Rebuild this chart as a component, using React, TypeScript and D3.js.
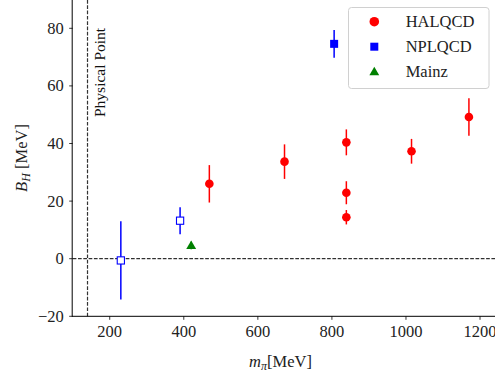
import React from 'react';
import * as d3 from 'd3';

// HALQCD (filled red circles)
const halX = [469, 672, 839, 839, 839, 1015, 1170];
const halY = [26.0, 33.7, 40.4, 22.9, 14.4, 37.3, 49.2];
const halErr = [6.5, 6.0, 4.5, 4.0, 2.5, 4.3, 6.5];

// NPLQCD (filled blue square, in legend)
const nplX = [806];
const nplY = [74.6];
const nplErr = [4.8];

// NPLQCD (open blue squares, no legend)
const nplOpenX = [230, 390];
const nplOpenY = [-0.6, 13.2];
const nplOpenErr = [13.6, 4.7];

// Mainz (green triangle)
const mainzX = [420];
const mainzY = [4.6];
const mainzErr = [1.3];

const xTicks = [200, 400, 600, 800, 1000, 1200];
const yTicks = [-20, 0, 20, 40, 60, 80];
const physicalPoint = 140;
const legendLabels = ['HALQCD', 'NPLQCD', 'Mainz'];

const W = 495;
const H = 370;
const FONT = "'Liberation Serif'";
const fs = 16.5;

const margin = { left: 72.7, bottom: 316.3 };
const x = d3.scaleLinear().domain([100, 1250]).range([margin.left, margin.left + 1150 * 0.3703]);
const y = d3.scaleLinear().domain([-20, 90]).range([margin.bottom, margin.bottom - 110 * 2.88]);
const fmt = d3.format('d');
const tri = d3.symbol().type(d3.symbolTriangle).size(42)()!;
const rowY = d3.scalePoint<string>().domain(legendLabels).range([21.7, 71.7]);

const zip = (xs: number[], ys: number[], es: number[]) => xs.map((v, i) => ({ x: v, y: ys[i], e: es[i] }));

const ErrBars: React.FC<{ pts: { x: number; y: number; e: number }[]; colour: string }> = ({ pts, colour }) => (
  <g>
    {pts.map((d, i) => (
      <line key={i} x1={x(d.x)} x2={x(d.x)} y1={y(d.y - d.e)} y2={y(d.y + d.e)} stroke={colour} strokeWidth={1.5} />
    ))}
  </g>
);

const App: React.FC = () => {
  const hal = zip(halX, halY, halErr);
  const npl = zip(nplX, nplY, nplErr);
  const nplOpen = zip(nplOpenX, nplOpenY, nplOpenErr);
  const mainz = zip(mainzX, mainzY, mainzErr);
  const mx = 374.3;

  return (
    <svg width={W} height={H} style={{ position: 'absolute', left: 0, top: 0, background: 'white', fontFamily: FONT }}>
      {/* reference lines */}
      <line x1={x(100)} x2={W} y1={y(0)} y2={y(0)} stroke="#000" strokeWidth={1} strokeDasharray="3.7,1.6" />
      <line x1={x(physicalPoint)} x2={x(physicalPoint)} y1={0} y2={y(-20)} stroke="#333" strokeWidth={1.2} strokeDasharray="3.7,1.6" />
      <text transform="translate(104.5,117) rotate(-90)" fontSize={15.5} fill="#111" style={{ fontFamily: FONT }}>
        Physical Point
      </text>

      {/* x axis */}
      <g transform={`translate(0,${margin.bottom})`}>
        <line x1={margin.left - 0.5} x2={W} y1={0} y2={0} stroke="#000" strokeWidth={1} />
        {xTicks.map(t => (
          <g key={t} transform={`translate(${x(t)},0)`}>
            <line y1={0} y2={3.5} stroke="#000" strokeWidth={0.8} />
            <text y={20.5} textAnchor="middle" fontSize={fs} fill="#222" style={{ fontFamily: FONT }}>{fmt(t)}</text>
          </g>
        ))}
      </g>

      {/* y axis */}
      <g transform={`translate(${margin.left},0)`}>
        <line x1={-0.5} x2={-0.5} y1={0} y2={margin.bottom + 0.5} stroke="#000" strokeWidth={1} />
        {yTicks.map(t => (
          <g key={t} transform={`translate(0,${y(t)})`}>
            <line x1={-3.5} x2={0} stroke="#000" strokeWidth={0.8} />
            <text x={-9} dy={5.5} textAnchor="end" fontSize={fs} fill="#222" style={{ fontFamily: FONT }}>{fmt(t)}</text>
          </g>
        ))}
      </g>

      {/* data */}
      <ErrBars pts={hal} colour="#ff0000" />
      {hal.map((d, i) => <circle key={i} cx={x(d.x)} cy={y(d.y)} r={4.3} fill="#ff0000" />)}

      <ErrBars pts={npl} colour="#0000ff" />
      {npl.map((d, i) => <rect key={i} x={x(d.x) - 4} y={y(d.y) - 4} width={8} height={8} fill="#0000ff" />)}

      <ErrBars pts={nplOpen} colour="#0000ff" />
      {nplOpen.map((d, i) => (
        <rect key={i} x={x(d.x) - 3.6} y={y(d.y) - 3.6} width={7.2} height={7.2} fill="white" stroke="#0000ff" strokeWidth={1.1} />
      ))}

      <ErrBars pts={mainz} colour="#008000" />
      {mainz.map((d, i) => <path key={i} transform={`translate(${x(d.x)},${y(d.y) + 0.8})`} d={tri} fill="#008000" />)}

      {/* axis labels */}
      <text transform="translate(26.5,158) rotate(-90)" textAnchor="middle" fontSize={fs} fill="#222" style={{ fontFamily: FONT }}>
        <tspan fontStyle="italic">B</tspan>
        <tspan fontStyle="italic" fontSize={12} dy={3.5}>H</tspan>
        <tspan dy={-3.5}> [MeV]</tspan>
      </text>
      <text x={280.5} y={366.5} textAnchor="middle" fontSize={fs} fill="#222" style={{ fontFamily: FONT }}>
        <tspan fontStyle="italic">m</tspan>
        <tspan fontStyle="italic" fontSize={12} dy={3}>π</tspan>
        <tspan dy={-3}>[MeV]</tspan>
      </text>

      {/* legend */}
      <g>
        <rect x={348.5} y={7.5} width={140.5} height={81} rx={3} fill="white" fillOpacity={0.85} stroke="#d0d0d0" strokeWidth={1} />
        <circle cx={mx} cy={rowY('HALQCD')!} r={4.8} fill="#ff0000" />
        <rect x={mx - 4} y={rowY('NPLQCD')! - 4} width={8} height={8} fill="#0000ff" />
        <path transform={`translate(${mx},${rowY('Mainz')! + 0.8})`} d={tri} fill="#008000" />
        {legendLabels.map(l => (
          <text key={l} x={405.7} y={rowY(l)! + 5.5} fontSize={fs} fill="#222" style={{ fontFamily: FONT }}>{l}</text>
        ))}
      </g>
    </svg>
  );
};

export default App;
